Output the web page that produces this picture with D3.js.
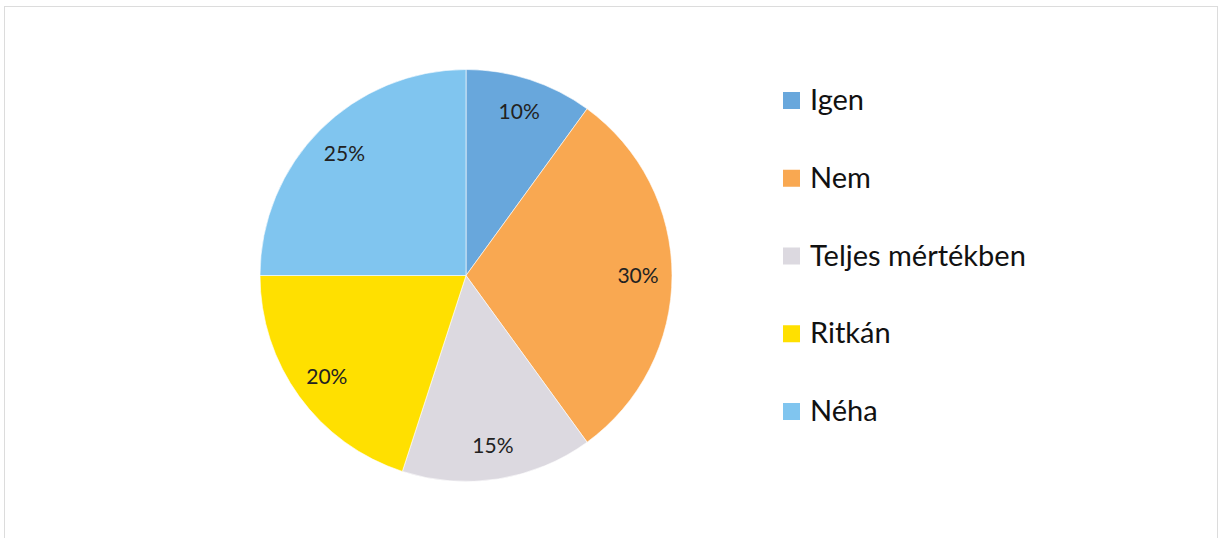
<!DOCTYPE html>
<html><head><meta charset="utf-8">
<script src="https://cdn.jsdelivr.net/npm/d3@7"></script>
<style>body{margin:0;background:#fff}svg{display:block}</style>
</head><body>
<svg id="c" width="1221" height="538"></svg>
<script>
const categories = ["Igen", "Nem", "Teljes mértékben", "Ritkán", "Néha"];
const values = [10, 30, 15, 20, 25];
const labels = ["10%", "30%", "15%", "20%", "25%"];
const colors = ["#68a7dc", "#f9a851", "#dcd9e0", "#ffe000", "#80c5ef"];

const svg = d3.select("#c");
svg.append("rect").attr("x", 4.5).attr("y", 6.5).attr("width", 1213).attr("height", 540)
  .attr("fill", "#fff").attr("stroke", "#dcdcdc");

const cx = 466, cy = 275.5, r = 206;
const pie = d3.pie().sort(null).value(d => d.v);
const data = pie(values.map((v, i) => ({v, i})));
const arc = d3.arc().innerRadius(0).outerRadius(r);
const lab = d3.arc().innerRadius(172).outerRadius(172);
const g = svg.append("g").attr("transform", `translate(${cx},${cy})`);
g.selectAll("path").data(data).join("path")
  .attr("d", arc).attr("fill", d => colors[d.data.i])
  .attr("stroke", "#fff").attr("stroke-width", 0.6);
g.selectAll("text").data(data).join("text")
  .attr("transform", d => `translate(${lab.centroid(d)})`)
  .attr("text-anchor", "middle").attr("dy", "0.35em")
  .attr("font-family", "Lato, 'Open Sans', sans-serif").attr("font-size", 21)
  .attr("fill", "#222").text(d => labels[d.data.i]);

const y = d3.scalePoint().domain(categories).range([100, 411]);
const lg = svg.append("g");
const items = lg.selectAll("g").data(categories).join("g")
  .attr("transform", d => `translate(783,${y(d)})`);
items.append("rect").attr("x", 0).attr("y", -8).attr("width", 17).attr("height", 17)
  .attr("fill", (d, i) => colors[i]);
items.append("text").attr("x", 27).attr("dy", "0.35em")
  .attr("font-family", "Lato, 'Open Sans', sans-serif").attr("font-size", 29)
  .attr("fill", "#111").text(d => d);
</script>
</body></html>
